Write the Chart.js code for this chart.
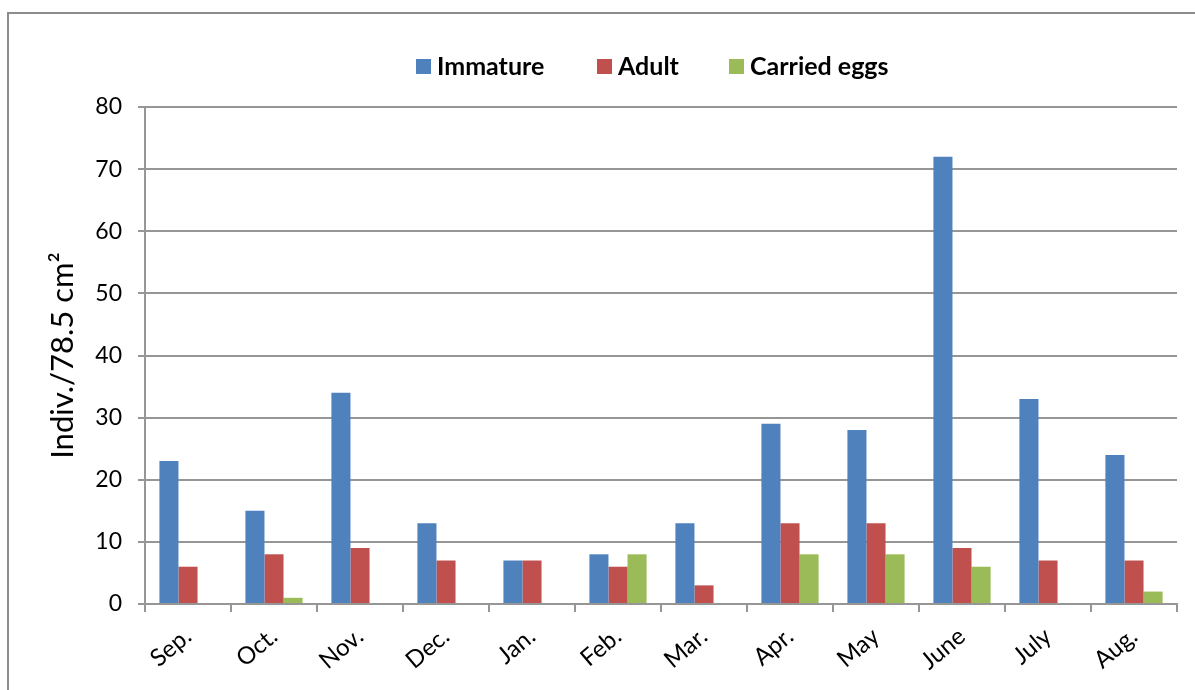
<!DOCTYPE html>
<html>
<head>
<meta charset="utf-8">
<script src="https://cdn.jsdelivr.net/npm/chart.js@4.4.1/dist/chart.umd.min.js"></script>
<style>
  html, body { margin: 0; padding: 0; background: #fff; }
  #wrap { width: 1195px; height: 690px; position: relative; }
</style>
</head>
<body>
<div id="wrap"><canvas id="myChart" width="1195" height="690"></canvas></div>
<script>
const months = ['Sep.', 'Oct.', 'Nov.', 'Dec.', 'Jan.', 'Feb.', 'Mar.', 'Apr.', 'May', 'June', 'July', 'Aug.'];
const immature = [23, 15, 34, 13, 7, 8, 13, 29, 28, 72, 33, 24];
const adult = [6, 8, 9, 7, 7, 6, 3, 13, 13, 9, 7, 7];
const carriedEggs = [0, 1, 0, 0, 0, 8, 0, 8, 8, 6, 0, 2];
const yTicks = [0, 10, 20, 30, 40, 50, 60, 70, 80];

const FONT = 'Lato, "Open Sans", sans-serif';
const gray = '#969696';

// frame + legend drawn by hand so the legend can sit where the original has it
const frameAndLegend = {
    id: 'frameAndLegend',
    beforeDraw(chart) {
        const c = chart.ctx;
        c.save();
        c.strokeStyle = '#8c8c8c';
        c.lineWidth = 2;
        c.strokeRect(8, 13, 1300, 800);
        c.restore();
    },
    afterDraw(chart) {
        const c = chart.ctx;
        const xs = [416, 597, 729];
        c.save();
        c.font = 'bold 25px ' + FONT;
        c.textBaseline = 'middle';
        chart.data.datasets.forEach((ds, i) => {
            c.fillStyle = ds.backgroundColor;
            c.fillRect(xs[i], 59, 15, 15);
            c.fillStyle = '#000';
            c.fillText(ds.label, xs[i] + 21, 67);
        });
        c.restore();
    }
};

const ctx = document.getElementById('myChart').getContext('2d');

let graphData = {
    type: 'bar',
    data: {
        labels: months,
        datasets: [
            { label: 'Immature', data: immature, backgroundColor: '#4F81BD' },
            { label: 'Adult', data: adult, backgroundColor: '#C0504D' },
            { label: 'Carried eggs', data: carriedEggs, backgroundColor: '#9BBB59' }
        ]
    },
    options: {
        responsive: false,
        animation: false,
        layout: { padding: { top: 107, right: 18, left: 0, bottom: 0 } },
        datasets: { bar: { categoryPercentage: 0.665, barPercentage: 1.0 } },
        plugins: { legend: { display: false }, tooltip: { enabled: false } },
        scales: {
            x: {
                grid: { display: true, drawOnChartArea: false, color: gray, lineWidth: 2, tickLength: 8, offset: true },
                border: { color: gray, width: 2 },
                ticks: { color: '#000', font: { family: FONT, size: 24 }, maxRotation: 40, minRotation: 40, padding: 10 },
                afterFit(scale) { scale.height = 86; }
            },
            y: {
                min: 0, max: 80,
                afterBuildTicks(scale) { scale.ticks = yTicks.map(v => ({ value: v })); },
                grid: { color: gray, lineWidth: 2, tickLength: 7 },
                border: { color: gray, width: 2 },
                ticks: { color: '#000', font: { family: FONT, size: 23 }, padding: 16 },
                title: { display: true, text: 'Indiv./78.5 cm²', color: '#000', font: { family: FONT, size: 31 }, padding: { top: 44 } },
                afterFit(scale) { scale.width = 145; }
            }
        }
    },
    plugins: [frameAndLegend]
};
const myChart = new Chart(ctx, graphData);
</script>
</body>
</html>
